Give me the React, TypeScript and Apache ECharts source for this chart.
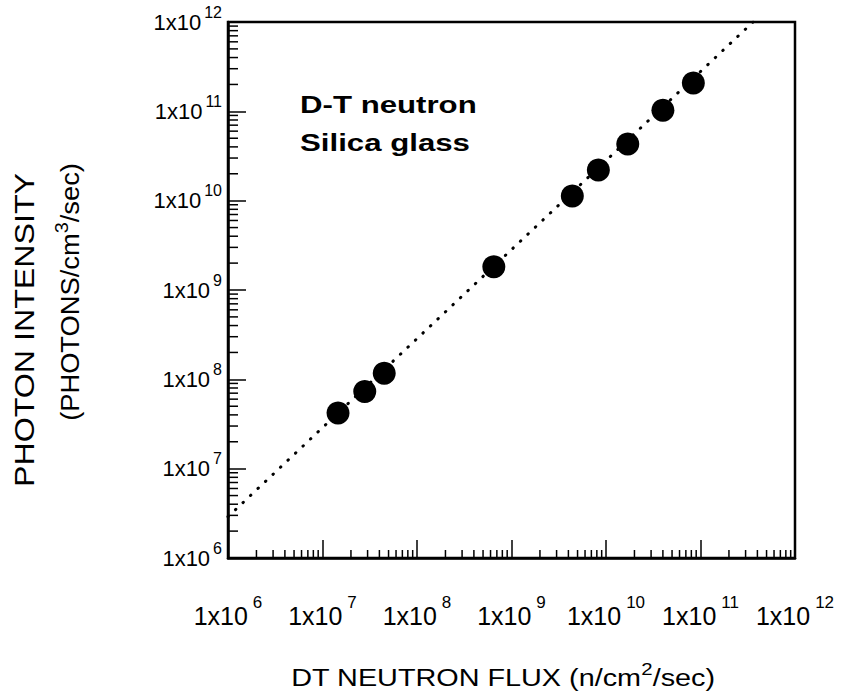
import React, { useEffect, useRef } from 'react';
import * as echarts from 'echarts';

// Measured photon emission from silica glass under D-T neutron irradiation
const fluxValues = [1.46e7, 2.8e7, 4.5e7, 6.5e8, 4.4e9, 8.3e9, 1.7e10, 4.0e10, 8.4e10];
const intensityValues = [4.2e7, 7.3e7, 1.17e8, 1.82e9, 1.13e10, 2.2e10, 4.3e10, 1.03e11, 2.08e11];

// Linear (slope ~1) fit drawn across the plot
const fitFlux = [1e6, 3.6e11];
const fitIntensity = [2.9e6, 1e12];

// Decade exponents for both axes and the minor tick multipliers inside each decade
const decadeExponents = [6, 7, 8, 9, 10, 11, 12];
const minorMultipliers = [2, 3, 4, 5, 6, 7, 8, 9];

const FONT = '"Liberation Sans", Arial, Helvetica, sans-serif';

export default function App() {
  const ref = useRef<HTMLDivElement>(null);

  useEffect(() => {
    document.body.style.margin = '0';
    const chart = echarts.init(ref.current!, null, { renderer: 'svg' });

    const axisMin = Math.pow(10, decadeExponents[0]);
    const axisMax = Math.pow(10, decadeExponents[decadeExponents.length - 1]);
    const minorTicks: number[] = [];
    decadeExponents.slice(0, -1).forEach((e) =>
      minorMultipliers.forEach((m) => minorTicks.push(m * Math.pow(10, e)))
    );

    const powerLabel = (v: number) => {
      const exp = decadeExponents.find((e) => Math.abs(Math.log10(v) - e) < 1e-6);
      return exp === undefined ? '' : '{base|1x10}{sup|' + exp + '}';
    };

    const xLabelRich = {
      base: { fontSize: 25, fontFamily: FONT, color: '#000', lineHeight: 44 },
      sup: { fontSize: 17, fontFamily: FONT, color: '#000', verticalAlign: 'top', lineHeight: 4, padding: [0, 0, 0, 5] },
    };
    const yLabelRich = {
      base: { fontSize: 22, fontFamily: FONT, color: '#000', lineHeight: 36 },
      sup: { fontSize: 16, fontFamily: FONT, color: '#000', verticalAlign: 'top', lineHeight: 4, padding: [0, 0, 0, 3] },
    };

    const axisCommon = {
      type: 'log',
      logBase: 10,
      min: axisMin,
      max: axisMax,
      splitNumber: 6,
      splitLine: { show: false },
      axisLine: { show: true, lineStyle: { color: '#000', width: 2.5 } },
      axisTick: { show: true, inside: true, length: 18, lineStyle: { color: '#000', width: 1.5 } },
      minorTick: { show: false },
    };

    const titleRich = (size: number, supSize: number) => ({
      base: { fontSize: size, fontFamily: FONT, color: '#000', lineHeight: size + 10 },
      sup: { fontSize: supSize, fontFamily: FONT, color: '#000', verticalAlign: 'top', lineHeight: 4 },
    });

    chart.setOption({
      animation: false,
      backgroundColor: '#fff',
      grid: {
        left: 228,
        right: 51,
        top: 22,
        bottom: 141,
        show: true,
        borderColor: '#000',
        borderWidth: 2.5,
      },
      xAxis: {
        ...axisCommon,
        axisLabel: { margin: 36, formatter: powerLabel, rich: xLabelRich },
      },
      yAxis: {
        ...axisCommon,
        axisLabel: { margin: 6, formatter: powerLabel, rich: yLabelRich },
      },
      series: [
        {
          type: 'line',
          data: fitFlux.map((x, i) => [x, fitIntensity[i]]),
          showSymbol: false,
          symbol: 'none',
          lineStyle: { color: '#000', width: 3, type: [0.5, 9.8], cap: 'round' },
          z: 2,
        },
        {
          type: 'scatter',
          data: fluxValues.map((x, i) => [x, intensityValues[i]]),
          symbol: 'circle',
          symbolSize: 23,
          itemStyle: { color: '#000', opacity: 1 },
          z: 3,
        },
        {
          // minor ticks along the bottom axis
          type: 'custom',
          data: minorTicks.map((v) => [v, axisMin]),
          clip: false,
          silent: true,
          renderItem: (params: any, api: any) => {
            const p = api.coord([api.value(0), api.value(1)]);
            return {
              type: 'line',
              shape: { x1: p[0], y1: p[1], x2: p[0], y2: p[1] - 8 },
              style: { stroke: '#000', lineWidth: 1.5 },
            };
          },
          z: 4,
        },
        {
          // minor ticks along the left axis
          type: 'custom',
          data: minorTicks.map((v) => [axisMin, v]),
          clip: false,
          silent: true,
          renderItem: (params: any, api: any) => {
            const p = api.coord([api.value(0), api.value(1)]);
            return {
              type: 'line',
              shape: { x1: p[0], y1: p[1], x2: p[0] + 10, y2: p[1] },
              style: { stroke: '#000', lineWidth: 1.5 },
            };
          },
          z: 4,
        },
      ],
      graphic: [
        {
          type: 'text',
          x: 300,
          y: 105,
          scaleX: 1.3,
          style: {
            text: 'D-T neutron',
            fontSize: 24,
            fontWeight: 'bold',
            fontFamily: FONT,
            fill: '#000',
            textAlign: 'left',
            textVerticalAlign: 'middle',
          },
        },
        {
          type: 'text',
          x: 300,
          y: 143,
          scaleX: 1.3,
          style: {
            text: 'Silica glass',
            fontSize: 24,
            fontWeight: 'bold',
            fontFamily: FONT,
            fill: '#000',
            textAlign: 'left',
            textVerticalAlign: 'middle',
          },
        },
        {
          type: 'text',
          x: 503,
          y: 678,
          scaleX: 1.2,
          style: {
            text: '{base|DT NEUTRON FLUX (n/cm}{sup|2}{base|/sec)}',
            rich: titleRich(24, 17),
            textAlign: 'center',
            textVerticalAlign: 'middle',
          },
        },
        {
          type: 'text',
          x: 24,
          y: 330,
          rotation: Math.PI / 2,
          scaleX: 1.15,
          style: {
            text: 'PHOTON INTENSITY',
            fontSize: 28,
            fontFamily: FONT,
            fill: '#000',
            textAlign: 'center',
            textVerticalAlign: 'middle',
          },
        },
        {
          type: 'text',
          x: 70,
          y: 292,
          rotation: Math.PI / 2,
          scaleX: 1.05,
          style: {
            text: '{base|(PHOTONS/cm}{sup|3}{base|/sec)}',
            rich: titleRich(26, 19),
            textAlign: 'center',
            textVerticalAlign: 'middle',
          },
        },
      ],
    });

    return () => chart.dispose();
  }, []);

  return <div ref={ref} style={{ width: 846, height: 699 }} />;
}
